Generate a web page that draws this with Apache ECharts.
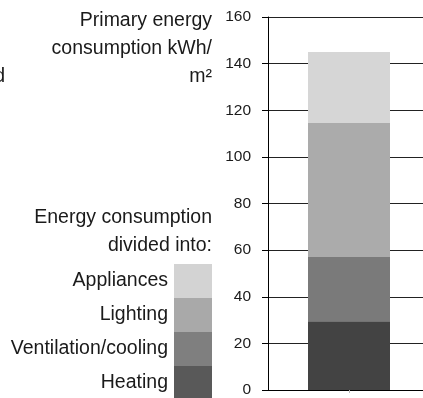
<!DOCTYPE html>
<html>
<head>
<meta charset="utf-8">
<script src="https://cdn.jsdelivr.net/npm/echarts@6/dist/echarts.min.js"></script>
<style>
html,body{margin:0;padding:0;background:#fff;overflow:hidden;width:423px;height:398px;}
#c{width:430px;height:398px;}
</style>
</head>
<body>
<div id="c"></div>
<script>
const categories = [''];
const seriesNames = ['Heating', 'Ventilation/cooling', 'Lighting', 'Appliances'];
const heating = [29.5];
const ventilation = [27.5];
const lighting = [57.5];
const appliances = [30.5];
const yTicks = [0, 20, 40, 60, 80, 100, 120, 140, 160];

const barColors = ['#434343', '#7a7a7a', '#ababab', '#d6d6d6'];
const legendColors = ['#595959', '#7f7f7f', '#a9a9a9', '#d3d3d3'];
const values = [heating, ventilation, lighting, appliances];
const FONT = '"Liberation Sans", Arial, sans-serif';

const chart = echarts.init(document.getElementById('c'), null, {renderer: 'canvas'});
chart.setOption({
  animation: false,
  backgroundColor: '#fff',
  grid: {left: 268, right: 0, top: 17, bottom: 7, containLabel: false},
  xAxis: {
    type: 'category',
    data: categories,
    axisLine: {show: true, lineStyle: {color: '#000', width: 1}},
    axisTick: {show: true, alignWithLabel: true, length: 3, lineStyle: {color: '#bbb'}},
    axisLabel: {show: false},
    splitLine: {show: false}
  },
  yAxis: {
    type: 'value',
    min: yTicks[0],
    max: yTicks[yTicks.length - 1],
    interval: yTicks[1] - yTicks[0],
    axisLine: {show: true, lineStyle: {color: '#000', width: 1}},
    axisTick: {show: true, length: 6, inside: false, lineStyle: {color: '#000'}},
    axisLabel: {
      margin: 17, fontSize: 15.5, fontFamily: FONT, color: '#1a1a1a',
      padding: [7, 0, 0, 0]
    },
    splitLine: {show: true, lineStyle: {color: '#222', width: 1}}
  },
  legend: {
    orient: 'vertical',
    right: 218,
    top: 264,
    height: 150,
    align: 'right',
    itemWidth: 38,
    itemHeight: 34,
    itemGap: 0,
    padding: 0,
    icon: 'rect',
    selectedMode: false,
    textStyle: {fontSize: 19.5, fontFamily: FONT, color: '#1a1a1a', padding: [0, 1, 0, 0]},
    data: [3, 2, 1, 0].map(i => ({name: seriesNames[i], itemStyle: {color: legendColors[i]}}))
  },
  series: seriesNames.map((n, i) => ({
    name: n,
    type: 'bar',
    stack: 'total',
    barWidth: 82,
    data: values[i],
    itemStyle: {color: barColors[i]},
    emphasis: {disabled: true}
  })),
  graphic: [
    {type: 'text', style: {x: 212, y: 6.5, text: 'Primary energy\nconsumption kWh/\nm²', align: 'right', verticalAlign: 'top', font: '19.5px ' + FONT, fill: '#1a1a1a', lineHeight: 28}},
    {type: 'text', style: {x: 5, y: 62.5, text: 'd', align: 'right', verticalAlign: 'top', font: '19.5px ' + FONT, fill: '#1a1a1a', lineHeight: 28}},
    {type: 'text', style: {x: 212, y: 204, text: 'Energy consumption\ndivided into:', align: 'right', verticalAlign: 'top', font: '19.5px ' + FONT, fill: '#1a1a1a', lineHeight: 28}}
  ]
});
</script>
</body>
</html>
